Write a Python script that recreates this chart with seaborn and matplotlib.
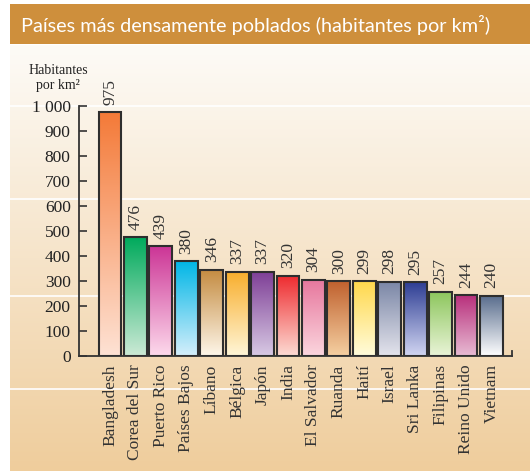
import numpy as np
import pandas as pd
import matplotlib
matplotlib.use("Agg")
import matplotlib.pyplot as plt
import seaborn as sns
from matplotlib.colors import to_rgb

paises = ["Bangladesh", "Corea del Sur", "Puerto Rico", "Países Bajos", "Líbano",
          "Bélgica", "Japón", "India", "El Salvador", "Ruanda", "Haití", "Israel",
          "Sri Lanka", "Filipinas", "Reino Unido", "Vietnam"]
densidad = [975, 476, 439, 380, 346, 337, 337, 320, 304, 300, 299, 298, 295, 257, 244, 240]
color_arriba = ["#F47A38", "#00AA5C", "#CC3596", "#00B6E6", "#C48B40", "#F8AE2C",
                "#7E3E96", "#EE2C30", "#E7789E", "#C0612E", "#FFD84C", "#7A86A6",
                "#2E3E94", "#8CC65C", "#B8307C", "#5A6E8E"]
color_abajo = ["#FEE2D4", "#CDEAD6", "#FDDAEC", "#D6EFFB", "#FEF7EA", "#FFF6D8",
               "#D8CAE4", "#FDDCD4", "#FBD6DE", "#F5D0A2", "#FFFCDC", "#E4E4EC",
               "#D2D6F2", "#EAF4D8", "#E8BCD4", "#FFFFFF"]
yticks = list(range(0, 1001, 100))
ytick_labels = ["1 000" if v == 1000 else str(v) for v in yticks]

SERIF = ["Liberation Serif", "DejaVu Serif"]

W, H = 530, 471
fig = plt.figure(figsize=(W / 100, H / 100), dpi=100)
fig.patch.set_facecolor("white")

# page background: soft vertical gradient below the title band
bg = fig.add_axes([10 / W, 0, 1 - 10 / W, (H - 45) / H], zorder=0)
top_c = np.array(to_rgb("#FDFBF7"))
bot_c = np.array(to_rgb("#EFCD9C"))
t = np.linspace(0, 1, 256)[:, None]
grad = top_c * (1 - t) + bot_c * t
bg.imshow(grad[:, None, :], aspect="auto", extent=[0, 1, 0, 1], origin="upper")
for yp in [106, 199, 296, 389]:
    yy = 1 - (yp - 45) / (H - 45)
    bg.axhline(yy, color="white", lw=1.2)
bg.set_xlim(0, 1); bg.set_ylim(0, 1)
bg.axis("off")

# title band
tb = fig.add_axes([10 / W, (H - 44) / H, 1 - 10 / W, 40 / H], zorder=1)
tb.set_facecolor("#CE8F3C")
tb.set_xticks([]); tb.set_yticks([])
for s in tb.spines.values():
    s.set_visible(False)
tb.text(0.022, 0.47, "Países más densamente poblados (habitantes por km²)",
        color="white", fontsize=14.3, family="Lato", va="center", ha="left",
        transform=tb.transAxes)

# main chart
ax = fig.add_axes([79 / W, (H - 356) / H, 433 / W, 250 / H], zorder=2)
ax.patch.set_alpha(0)
df = pd.DataFrame({"pais": paises, "densidad": densidad})
sns.barplot(data=df, x="pais", y="densidad", ax=ax, width=0.9,
            color="white", edgecolor="#2E2E2E", linewidth=1.5, saturation=1)

for i, p in enumerate(ax.patches):
    x0, y0 = p.get_x(), p.get_y()
    w, h = p.get_width(), p.get_height()
    c1 = np.array(to_rgb(color_arriba[i]))
    c2 = np.array(to_rgb(color_abajo[i]))
    g = c1 * (1 - t) + c2 * t
    im = ax.imshow(g[:, None, :], aspect="auto", extent=[x0, x0 + w, y0, y0 + h],
                   origin="upper", zorder=1.5)
    im.set_clip_path(p)
    p.set_facecolor("none")
    p.set_zorder(2)
    ax.text(x0 + w / 2, y0 + h + 30, str(densidad[i]), rotation=90,
            ha="center", va="bottom", fontsize=12.5, family=SERIF,
            color="#333333")

ax.set_xlim(-1.22, 15.81)
ax.set_ylim(0, 1000)
ax.set_xlabel(""); ax.set_ylabel("")
ax.set_yticks(yticks)
ax.set_yticklabels(ytick_labels, family=SERIF, fontsize=12.5, color="#222222")
ax.tick_params(axis="y", direction="in", length=6, width=1.2, color="#333333", pad=6)
ax.set_xticks(range(len(paises)))
ax.set_xticklabels(paises, rotation=90, family=SERIF, fontsize=12.5,
                   color="#333333", va="top")
ax.tick_params(axis="x", length=0, pad=6)

ax.spines["top"].set_visible(False)
ax.spines["right"].set_bounds(0, 22)
for s in ["left", "bottom", "right"]:
    ax.spines[s].set_color("#333333")
    ax.spines[s].set_linewidth(1.3)

fig.text(58 / W, 1 - 71 / H, "Habitantes", ha="center", va="center",
         family=SERIF, fontsize=10, color="#222222")
fig.text(58 / W, 1 - 85 / H, "por km²", ha="center", va="center",
         family=SERIF, fontsize=10, color="#222222")

fig.savefig("out.png", dpi=100, facecolor=fig.get_facecolor())
